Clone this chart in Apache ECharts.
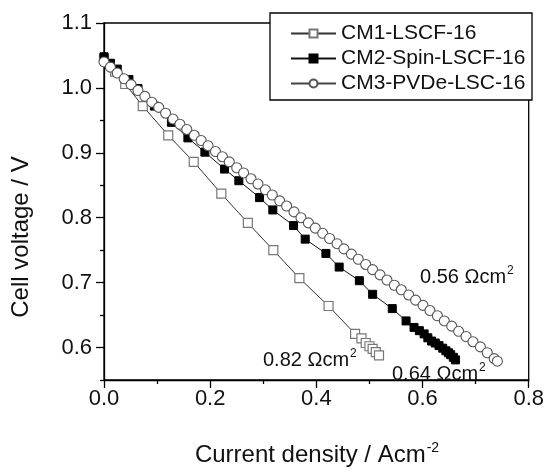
<!DOCTYPE html>
<html>
<head>
<meta charset="utf-8">
<script src="https://cdn.jsdelivr.net/npm/echarts@6/dist/echarts.min.js"></script>
<style>html,body{margin:0;padding:0;background:#fff;}#c{width:547px;height:472px;}</style>
</head>
<body>
<div id="c"></div>
<script>
// ---- data ----
const seriesNames = ['CM1-LSCF-16', 'CM2-Spin-LSCF-16', 'CM3-PVDe-LSC-16'];
const cm1X = [0, 0.021, 0.040, 0.073, 0.121, 0.169, 0.221, 0.271, 0.319, 0.368, 0.423, 0.473, 0.485, 0.493, 0.500, 0.506, 0.512, 0.518];
const cm1Y = [1.045, 1.025, 1.006, 0.972, 0.927, 0.886, 0.837, 0.792, 0.750, 0.707, 0.664, 0.621, 0.614, 0.607, 0.602, 0.598, 0.593, 0.588];
const cm2X = [0, 0.012, 0.025, 0.047, 0.064, 0.095, 0.127, 0.158, 0.190, 0.227, 0.254, 0.293, 0.318, 0.357, 0.379, 0.418, 0.443, 0.481, 0.506, 0.543, 0.569, 0.584, 0.594, 0.603, 0.610, 0.617, 0.624, 0.631, 0.638, 0.644, 0.649, 0.653, 0.658, 0.662];
const cm2Y = [1.048, 1.038, 1.029, 1.013, 0.999, 0.972, 0.947, 0.923, 0.901, 0.875, 0.857, 0.831, 0.812, 0.788, 0.767, 0.745, 0.724, 0.703, 0.682, 0.660, 0.641, 0.631, 0.626, 0.621, 0.615, 0.610, 0.607, 0.603, 0.599, 0.595, 0.592, 0.589, 0.585, 0.581];
const cm3X = [0, 0.012, 0.025, 0.038, 0.051, 0.064, 0.077, 0.090, 0.103, 0.116, 0.130, 0.143, 0.156, 0.170, 0.183, 0.196, 0.210, 0.223, 0.236, 0.250, 0.263, 0.277, 0.290, 0.304, 0.317, 0.331, 0.344, 0.358, 0.371, 0.385, 0.398, 0.412, 0.425, 0.439, 0.452, 0.466, 0.479, 0.493, 0.506, 0.520, 0.533, 0.547, 0.560, 0.574, 0.587, 0.601, 0.614, 0.628, 0.641, 0.655, 0.668, 0.682, 0.695, 0.709, 0.722, 0.735, 0.741];
const cm3Y = [1.040, 1.032, 1.023, 1.014, 1.005, 0.996, 0.987, 0.978, 0.970, 0.961, 0.952, 0.944, 0.936, 0.927, 0.919, 0.911, 0.902, 0.894, 0.886, 0.877, 0.869, 0.860, 0.852, 0.843, 0.835, 0.826, 0.818, 0.809, 0.800, 0.792, 0.784, 0.776, 0.768, 0.760, 0.752, 0.744, 0.736, 0.728, 0.720, 0.712, 0.704, 0.696, 0.689, 0.681, 0.673, 0.665, 0.657, 0.649, 0.641, 0.633, 0.625, 0.617, 0.609, 0.601, 0.592, 0.583, 0.579];
const yMajorTicks = [0.6, 0.7, 0.8, 0.9, 1.0, 1.1];
const yMinorTicks = [0.55, 0.65, 0.75, 0.85, 0.95, 1.05];
const annotations = [
  {value: '0.56', unit: 'Ωcm', sup: '2'},
  {value: '0.82', unit: 'Ωcm', sup: '2'},
  {value: '0.64', unit: 'Ωcm', sup: '2'}
];
const xTitle = 'Current density / Acm';
const xTitleSup = '-2';
const yTitle = 'Cell voltage / V';

// ---- chart ----
const FONT = "'Liberation Sans', Arial, sans-serif";
const pairs = (xs, ys) => xs.map((x, i) => [x, ys[i]]);
const chart = echarts.init(document.getElementById('c'), null, {renderer: 'canvas'});
const annPos = [[420, 277], [263, 360], [392, 374]];
const annText = (a, i) => ({
  type: 'text', left: annPos[i][0], top: annPos[i][1] - 12, z: 30,
  style: {
    text: '{a|' + a.value + ' ' + a.unit + '}{s|' + a.sup + '}',
    rich: {
      a: {fontSize: 20, fontFamily: FONT, fill: '#111', lineHeight: 24},
      s: {fontSize: 12, fontFamily: FONT, fill: '#111', verticalAlign: 'top', lineHeight: 24, padding: [0, 0, 8, 1]}
    }
  }
});
const option = {
  animation: false,
  backgroundColor: '#fff',
  grid: {left: 104, right: 17, top: 23, bottom: 92, show: true, borderColor: '#000', borderWidth: 1.3, backgroundColor: 'transparent'},
  xAxis: {
    type: 'value', min: 0, max: 0.8, interval: 0.2,
    axisLine: {lineStyle: {color: '#000', width: 1.3}},
    axisTick: {show: true, inside: false, length: 8, lineStyle: {color: '#000', width: 1.3}},
    minorTick: {show: true, splitNumber: 2, length: 4, lineStyle: {color: '#000', width: 1.3}},
    axisLabel: {fontSize: 22, fontFamily: FONT, color: '#111', margin: 8, formatter: v => v.toFixed(1)},
    splitLine: {show: false}
  },
  yAxis: [{
    type: 'value', min: 0.55, max: 1.1, position: 'left',
    axisLine: {show: true, lineStyle: {color: '#000', width: 1.3}},
    axisTick: {show: true, inside: false, length: 8, customValues: yMajorTicks, lineStyle: {color: '#000', width: 1.3}},
    axisLabel: {fontSize: 22, fontFamily: FONT, color: '#111', margin: 12, customValues: yMajorTicks, formatter: v => v.toFixed(1)},
    splitLine: {show: false}
  }, {
    type: 'value', min: 0.55, max: 1.1, position: 'left', offset: 0,
    axisLine: {show: false},
    axisTick: {show: true, inside: false, length: 4, customValues: yMinorTicks, lineStyle: {color: '#000', width: 1.3}},
    axisLabel: {show: false},
    splitLine: {show: false}
  }],
  legend: {
    orient: 'vertical', left: 290, top: 23, padding: 0, itemGap: 4, itemWidth: 45, itemHeight: 10, z: 20,
    textStyle: {fontSize: 21, lineHeight: 20, fontFamily: FONT, color: '#111'},
    data: seriesNames
  },
  series: [
    {name: seriesNames[0], type: 'line', data: pairs(cm1X, cm1Y), symbol: 'rect', symbolSize: 9, showAllSymbol: true,
     lineStyle: {color: '#333', width: 1}, itemStyle: {color: '#fff', borderColor: '#777', borderWidth: 1.2}},
    {name: seriesNames[1], type: 'line', data: pairs(cm2X, cm2Y), symbol: 'rect', symbolSize: 8, showAllSymbol: true,
     lineStyle: {color: '#111', width: 1}, itemStyle: {color: '#000', borderColor: '#000', borderWidth: 1}},
    {name: seriesNames[2], type: 'line', data: pairs(cm3X, cm3Y), symbol: 'circle', symbolSize: 10, showAllSymbol: true,
     lineStyle: {color: '#444', width: 1}, itemStyle: {color: '#fff', borderColor: '#555', borderWidth: 1.1}}
  ],
  graphic: [
    {type: 'rect', z: 10, shape: {x: 270, y: 13, width: 262, height: 87}, style: {fill: '#fff', stroke: '#000', lineWidth: 1.3}},
    annText(annotations[0], 0), annText(annotations[1], 1), annText(annotations[2], 2),
    {type: 'text', x: 317, y: 455, z: 30, style: {
      text: '{a|' + xTitle + '}{s|' + xTitleSup + '}', align: 'center', verticalAlign: 'middle',
      rich: {a: {fontSize: 24, fontFamily: FONT, fill: '#111', lineHeight: 28},
             s: {fontSize: 14, fontFamily: FONT, fill: '#111', verticalAlign: 'top', lineHeight: 28, padding: [0, 0, 9, 1]}}}},
    {type: 'text', x: 9, y: 237, rotation: Math.PI / 2, z: 30, style: {
      text: yTitle, fontSize: 24, fontFamily: FONT, fill: '#111', align: 'center', verticalAlign: 'top'}}
  ]
};
chart.setOption(option);
</script>
</body>
</html>
